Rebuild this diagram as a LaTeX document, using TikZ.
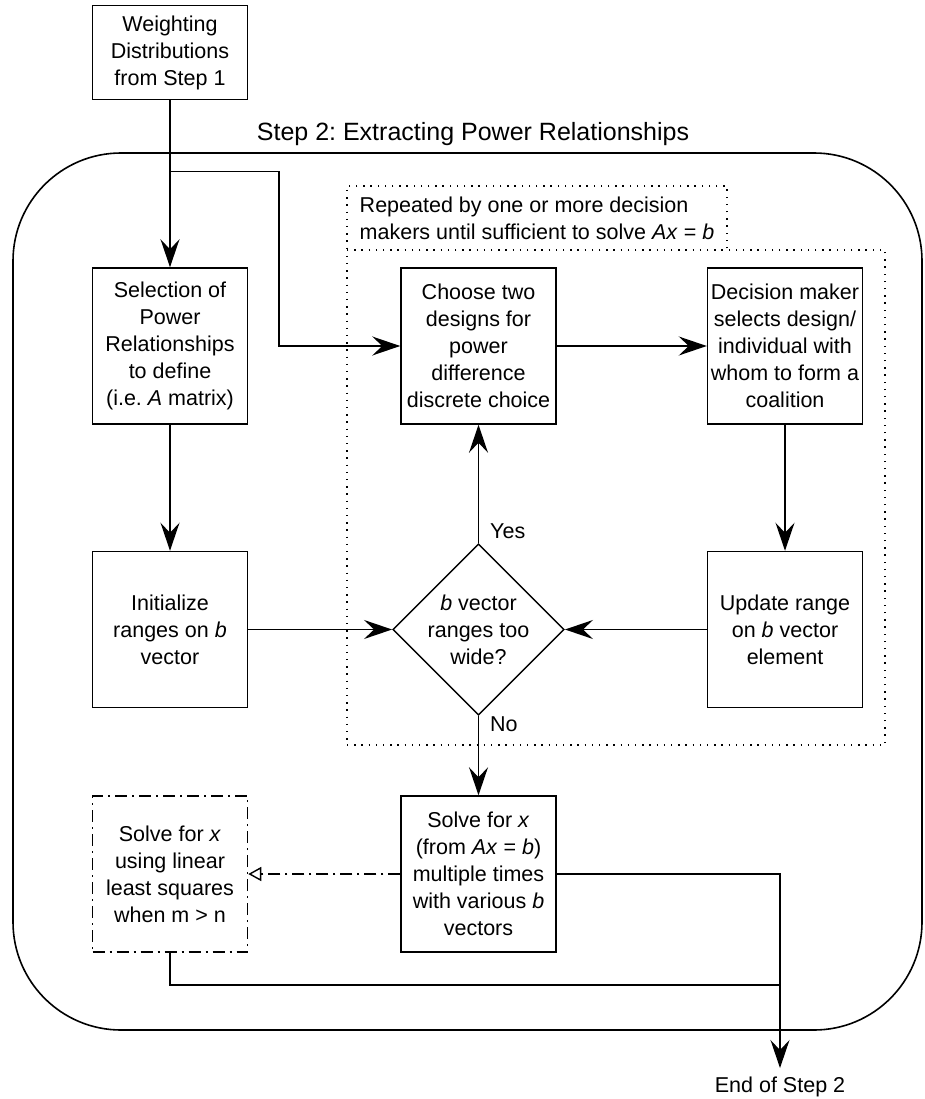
\documentclass[tikz,border=0pt]{standalone}
\usepackage{fontspec}
\setmainfont{Liberation Sans}
\usetikzlibrary{positioning,shapes.geometric,arrows.meta}
\frenchspacing

\begin{document}
\begin{tikzpicture}[x=1pt,y=1pt,font=\fontsize{21.5}{27}\selectfont,
    box/.style={draw,line width=1.5pt,minimum width=155pt,minimum height=156pt,inner sep=2pt,align=center},
    test/.style={draw,diamond,line width=1.5pt,inner sep=0pt,minimum width=169pt,minimum height=169pt,align=center},
    frame/.style={draw,line width=1.3pt,dash pattern=on 1.4pt off 5.8pt},
    flow/.style={line width=1.4pt,-{Stealth[length=28pt,width=19pt,inset=10pt]}},
    alt/.style={line width=1.4pt,dash pattern=on 12pt off 5pt on 2pt off 5pt,-{Triangle[open,length=13pt,width=14pt]}},
    lbl/.style={right,inner xsep=11pt}]
    \useasboundingbox (0,0) rectangle (924,-1099);

    \node[draw,line width=1.6pt,rounded corners=108pt,minimum width=909pt,minimum height=877pt] (stage) at (467.5,-591.5) {};
    \node[font=\fontsize{25}{30}\selectfont] (title) at (473,-134) {Step 2: Extracting Power Relationships};
    \node[frame,minimum width=538pt,minimum height=495pt] (loop) at (616,-497.5) {};
    \node[frame,align=left,minimum width=380pt,minimum height=64pt] (repnote) at (537,-218) {Repeated by one or more decision\\makers until sufficient to solve \textit{Ax} = \textit{b}};

    \node[box] (sel) at (170,-346) {Selection of\\Power\\Relationships\\to define\\(i.e. \textit{A} matrix)};
    \node[box,minimum height=94pt] (weight) [above=167pt of sel] {Weighting\\Distributions\\from Step 1};
    \node[box] (choose) [right=152pt of sel] {Choose two\\designs for\\power\\difference\\discrete choice};
    \node[box] (dm) [right=150pt of choose] {Decision maker\\selects design/\\individual with\\whom to form a\\coalition};
    \node[box] (init) [below=126pt of sel] {Initialize\\ranges on \textit{b}\\vector};
    \node[test] (dec) at (choose |- init) {\textit{b} vector\\ranges too\\wide?};
    \node[box] (upd) at (dm |- init) {Update range\\on \textit{b} vector\\element};
    \node[box] (lsq) [below=87pt of init,dash pattern=on 12pt off 5pt on 2pt off 5pt] {Solve for \textit{x}\\using linear\\least squares\\when m > n};
    \node[box] (solve) at (dec |- lsq) {Solve for \textit{x}\\(from \textit{Ax} = \textit{b})\\multiple times\\with various \textit{b}\\vectors};

    \coordinate (split) at ([yshift=-71pt]weight.south);
    \coordinate (jog) at ([xshift=109pt]split);
    \coordinate (endpt) at (780,-1068);
    \coordinate (merge) at (780,-985);
    \node (endtxt) at (780,-1087) {End of Step 2};

    \draw[flow] (weight) -- (sel);
    \draw[flow] (split) -- (jog) |- (choose);
    \path[flow]
    (choose)     edge (dm)
    (dm)         edge (upd)
    (upd)        edge (dec)
    (init)       edge (dec)
    (sel)        edge (init)
    (dec)        edge node[lbl,pos=0.1] {Yes} (choose)
                 edge node[lbl,pos=0.1] {No} (solve)
    ;
    \draw[alt] (solve) -- (lsq);
    \draw[flow] (solve) -| (endpt);
    \draw[line width=1.4pt] (lsq) |- (merge);
\end{tikzpicture}
\end{document}
